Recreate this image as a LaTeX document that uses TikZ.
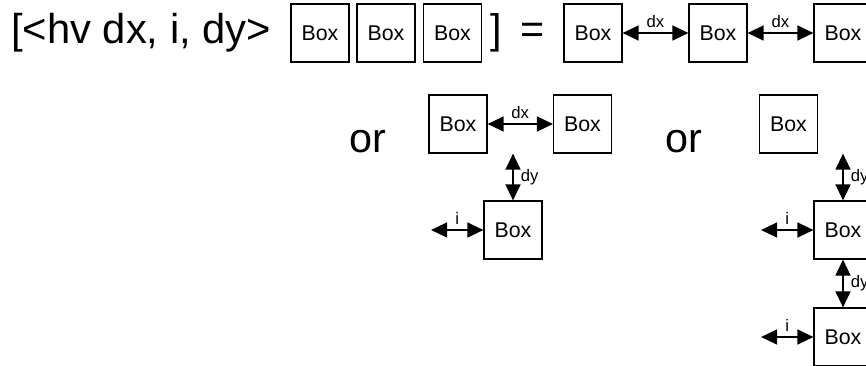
\documentclass[tikz,border=0pt]{standalone}
\usepackage{fontspec}
\setmainfont{Liberation Sans}
\usetikzlibrary{arrows.meta}

\tikzset{
  bx/.style={draw, line width=0.8pt, minimum width=43.5pt, minimum height=43.5pt,
    inner sep=0pt, font=\fontsize{16}{16}\selectfont},
  big/.style={inner sep=0pt, anchor=base west, font=\fontsize{31}{31}\selectfont},
  gap/.style={line width=1.7pt, {Triangle[length=12pt,width=11pt]}-{Triangle[length=12pt,width=11pt]}},
  lab/.style={inner sep=0pt, font=\fontsize{12.5}{12.5}\selectfont},
}

\begin{document}
\begin{tikzpicture}[x=0.75pt, y=-0.75pt]
  \useasboundingbox (0,0) rectangle (866,365);
  \clip (0,0) rectangle (866,365);

  % first line: the hv operator applied to three boxes
  \node[big, font=\fontsize{31.3}{31.3}\selectfont] (expr) at (11,43) {[<hv dx, i, dy>};
  \node[bx] (a1) at (320,33) {Box};
  \node[bx] (a2) at (386,33) {Box};
  \node[bx] (a3) at (452.5,33) {Box};
  \node[big] (close) at (490,43) {]};
  \node[big] (eq) at (520,43) {=};

  % result laid out horizontally
  \node[bx] (r1) at (593,33) {Box};
  \node[bx] (r2) at (718,33) {Box};
  \node[bx] (r3) at (843,33) {Box};
  \draw[gap] (r1.east) -- node[lab, above=3pt] (dxa) {dx} (r2.west);
  \draw[gap] (r2.east) -- node[lab, above=3pt] (dxb) {dx} (r3.west);

  % first alternative: wrap after two boxes
  \node[big] (or1) at (349.5,152) {or};
  \node[bx] (d) at (458,124) {Box};
  \node[bx] (e) at (582.5,124) {Box};
  \node[bx] (f) at (513,230) {Box};
  \draw[gap] (d.east) -- node[lab, above=3pt] (dxc) {dx} (e.west);
  \coordinate (fy) at (f.north |- d.south);
  \draw[gap] (fy) -- node[lab, right=5pt] (dyc) {dy} (f.north);
  \coordinate (fi) at (431,230);
  \draw[gap] (fi) -- node[lab, above=3pt] (ic) {i} (f.west);

  % second alternative: one box per line
  \node[big] (or2) at (665.5,152) {or};
  \node[bx] (g) at (788.5,124) {Box};
  \node[bx] (h) at (843,230) {Box};
  \node[bx] (k) at (843,337) {Box};
  \coordinate (hy) at (h.north |- g.south);
  \draw[gap] (hy) -- node[lab, right=5pt] (dyd) {dy} (h.north);
  \draw[gap] (h.south) -- node[lab, right=5pt] (dye) {dy} (k.north);
  \coordinate (hi) at (761,230);
  \draw[gap] (hi) -- node[lab, above=3pt] (id) {i} (h.west);
  \coordinate (ki) at (761,337);
  \draw[gap] (ki) -- node[lab, above=3pt] (ie) {i} (k.west);
\end{tikzpicture}
\end{document}
